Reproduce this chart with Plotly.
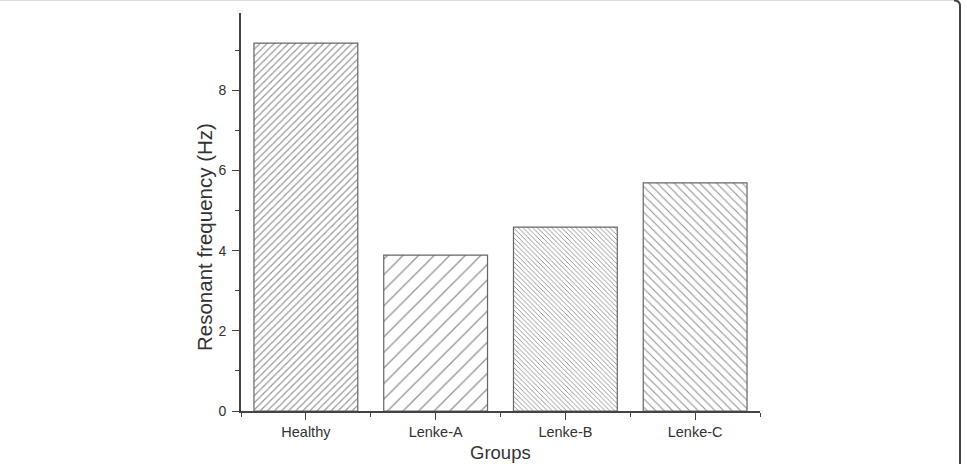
import plotly.graph_objects as go

groups = ["Healthy", "Lenke-A", "Lenke-B", "Lenke-C"]
freq = [9.18, 3.89, 4.59, 5.69]
pattern_shapes = ["/", "/", "\\", "\\"]
pattern_sizes = [5, 11, 3.4, 6]
pattern_solidity = [0.22, 0.12, 0.28, 0.19]
y_ticks = [0, 2, 4, 6, 8]
y_minor = [1, 3, 5, 7, 9]

xpos = list(range(len(groups)))
x_minor = [i - 0.5 for i in range(len(groups) + 1)]

fig = go.Figure(go.Bar(
    x=xpos, y=freq, width=0.8,
    marker=dict(
        color="white",
        line=dict(color="#666666", width=1.2),
        pattern=dict(shape=pattern_shapes, size=pattern_sizes, solidity=pattern_solidity,
                     fgcolor="#2a2a2a", bgcolor="white", fillmode="overlay"),
    ),
))

# plot area in pixels: x 241..760, y 13..411
def px_x(p):
    return (p - 241) / 519.0

def px_y(p):
    return (411 - p) / 398.0

fig.add_shape(type="line", xref="paper", yref="paper",
              x0=px_x(0), x1=px_x(954), y0=px_y(0.5), y1=px_y(0.5),
              line=dict(color="#dddddd", width=1), layer="below")
fig.add_shape(type="path", xref="paper", yref="paper",
              path=(f"M {px_x(954)},{px_y(0.5)} Q {px_x(960)},{px_y(0.5)} "
                    f"{px_x(960)},{px_y(6)} L {px_x(960)},{px_y(464)}"),
              line=dict(color="#444444", width=2), layer="below")

font = "Liberation Sans, Arial, sans-serif"
fig.add_annotation(text="Groups", xref="paper", yref="paper", x=px_x(500), y=px_y(453),
                   xanchor="center", yanchor="middle", showarrow=False,
                   font=dict(family=font, size=18.5, color="#333333"))
fig.add_annotation(text="Resonant frequency (Hz)", xref="paper", yref="paper",
                   x=px_x(204), y=px_y(237), textangle=-90,
                   xanchor="center", yanchor="middle", showarrow=False,
                   font=dict(family=font, size=20.5, color="#333333"))

fig.update_layout(
    width=967, height=464,
    margin=dict(l=241, r=207, t=13, b=53),
    plot_bgcolor="white", paper_bgcolor="white",
    showlegend=False,
    font=dict(family=font, color="#333333", size=13),
)
fig.update_xaxes(
    range=[-0.5, 3.5], tickmode="array", tickvals=xpos, ticktext=groups,
    ticks="outside", ticklen=7, tickwidth=1.2, tickcolor="#444444",
    minor=dict(tickmode="array", tickvals=x_minor, ticks="outside", ticklen=4,
               tickwidth=1.2, tickcolor="#444444"),
    showline=True, linecolor="#444444", linewidth=1.6, showgrid=False, zeroline=False,
    tickfont=dict(size=14.5, color="#333333"), ticklabelstandoff=0,
    automargin=False,
)
fig.update_yaxes(
    range=[0, 9.93], tickmode="array", tickvals=y_ticks,
    ticks="outside", ticklen=7, tickwidth=1.2, tickcolor="#444444",
    minor=dict(tickmode="array", tickvals=y_minor, ticks="outside", ticklen=4,
               tickwidth=1.2, tickcolor="#444444"),
    showline=True, linecolor="#444444", linewidth=1.6, showgrid=False, zeroline=False,
    tickfont=dict(size=14, color="#333333"), ticklabelstandoff=3,
    automargin=False,
)
fig.write_html("out.html")
